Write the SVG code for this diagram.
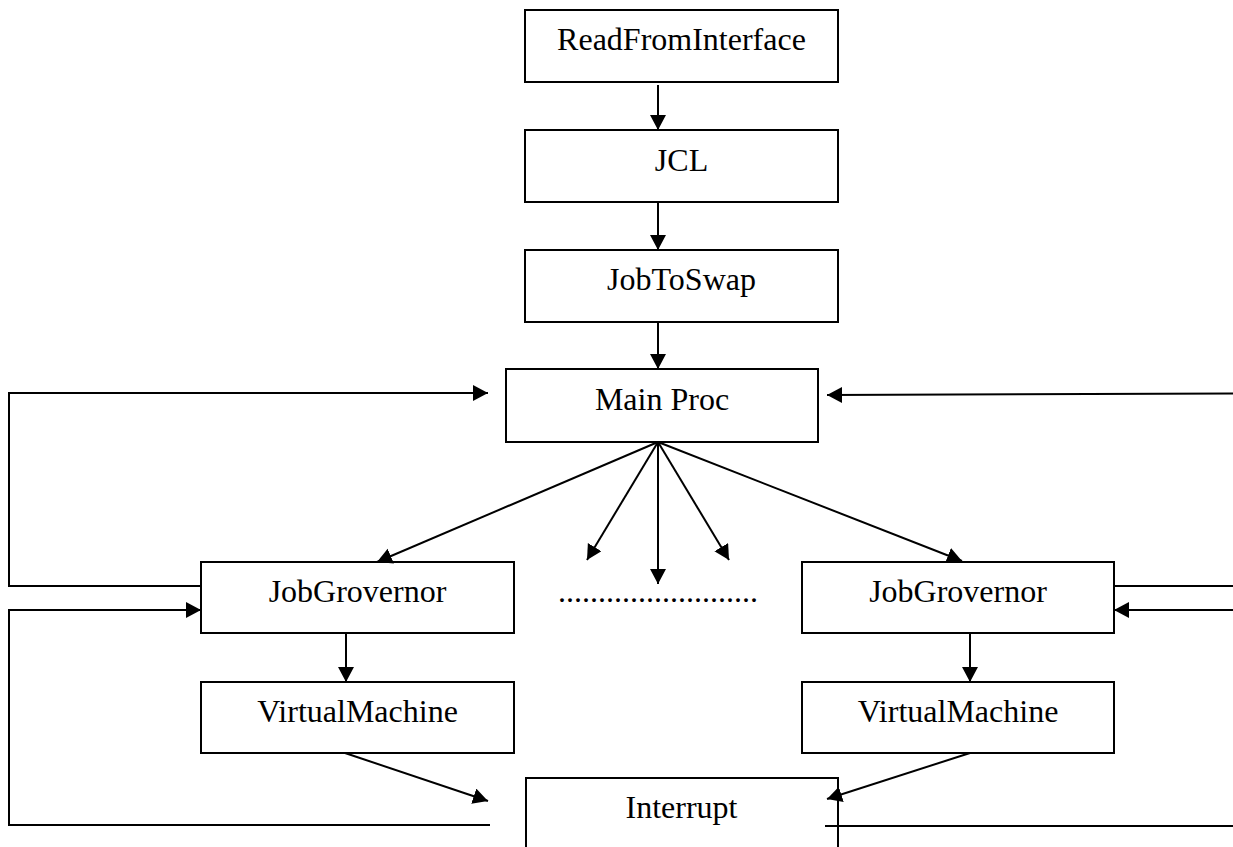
<svg xmlns="http://www.w3.org/2000/svg" width="1233" height="847" viewBox="0 0 1233 847">
  <style>
    .box { fill: #ffffff; stroke: #000000; stroke-width: 2; }
    .lbl { font-family: "Liberation Serif", "Times New Roman", serif; font-size: 32px; fill: #000000; text-anchor: middle; }
    .wire { fill: none; stroke: #000000; stroke-width: 2; }
    .arrow { marker-end: url(#head); }
  </style>
  <defs>
    <marker id="head" markerUnits="userSpaceOnUse" markerWidth="18" markerHeight="18" refX="15" refY="8" orient="auto">
      <path d="M0,0 L15,8 L0,16 Z" fill="#000000"/>
    </marker>
  </defs>

  <rect width="1233" height="847" fill="#ffffff"/>

  <g id="read-from-interface">
    <rect class="box" x="525" y="10" width="313" height="72"/>
    <text class="lbl" x="681.5" y="50">ReadFromInterface</text>
  </g>
  <g id="jcl">
    <rect class="box" x="525" y="130" width="313" height="72"/>
    <text class="lbl" x="681.5" y="171">JCL</text>
  </g>
  <g id="job-to-swap">
    <rect class="box" x="525" y="250" width="313" height="72"/>
    <text class="lbl" x="681.5" y="290">JobToSwap</text>
  </g>
  <g id="main-proc">
    <rect class="box" x="506" y="369" width="312" height="73"/>
    <text class="lbl" x="662" y="410">Main Proc</text>
  </g>
  <g id="job-governor-left">
    <rect class="box" x="201" y="562" width="313" height="71"/>
    <text class="lbl" x="357.5" y="602">JobGrovernor</text>
  </g>
  <g id="ellipsis">
    <text x="558" y="602" font-family="Liberation Serif, serif" font-size="32">.........................</text>
  </g>
  <g id="job-governor-right">
    <rect class="box" x="802" y="562" width="312" height="71"/>
    <text class="lbl" x="958" y="602">JobGrovernor</text>
  </g>
  <g id="virtual-machine-left">
    <rect class="box" x="201" y="682" width="313" height="71"/>
    <text class="lbl" x="357.5" y="722">VirtualMachine</text>
  </g>
  <g id="virtual-machine-right">
    <rect class="box" x="802" y="682" width="312" height="71"/>
    <text class="lbl" x="958" y="722">VirtualMachine</text>
  </g>
  <g id="interrupt">
    <rect class="box" x="526" y="778" width="312" height="90"/>
    <text class="lbl" x="681.5" y="818">Interrupt</text>
  </g>

  <g id="connectors">
    <!-- main chain -->
    <line class="wire arrow" x1="658" y1="85" x2="658" y2="130"/>
    <line class="wire arrow" x1="658" y1="202" x2="658" y2="250"/>
    <line class="wire arrow" x1="658" y1="322" x2="658" y2="369"/>

    <!-- fan out from Main Proc -->
    <line class="wire arrow" x1="658" y1="442" x2="377" y2="562"/>
    <line class="wire arrow" x1="658" y1="442" x2="587" y2="560"/>
    <line class="wire arrow" x1="658" y1="442" x2="658" y2="584"/>
    <line class="wire arrow" x1="658" y1="442" x2="729" y2="560"/>
    <line class="wire arrow" x1="658" y1="442" x2="962" y2="561"/>

    <!-- left feedback loops -->
    <polyline class="wire arrow" points="201,586 9,586 9,393 488,393"/>
    <polyline class="wire arrow" points="490,825 9,825 9,610 201,610"/>

    <!-- right feedback loops -->
    <line class="wire arrow" x1="1233" y1="393.5" x2="827" y2="395"/>
    <line class="wire" x1="1114" y1="586" x2="1233" y2="586"/>
    <line class="wire arrow" x1="1233" y1="610" x2="1114" y2="610"/>
    <line class="wire" x1="825" y1="826" x2="1233" y2="826"/>

    <!-- governors to virtual machines -->
    <line class="wire arrow" x1="346" y1="633" x2="346" y2="682"/>
    <line class="wire arrow" x1="970" y1="633" x2="970" y2="682"/>

    <!-- virtual machines to interrupt -->
    <line class="wire arrow" x1="345" y1="753" x2="488" y2="801"/>
    <line class="wire arrow" x1="970" y1="753" x2="827" y2="799"/>
  </g>
</svg>
